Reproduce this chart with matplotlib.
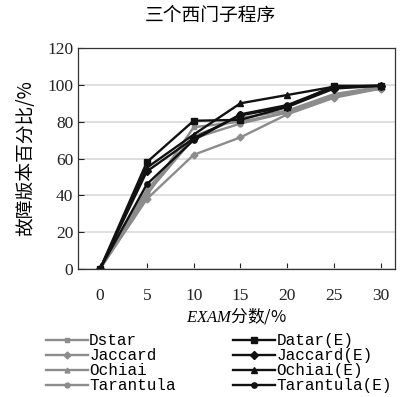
import matplotlib

matplotlib.use("Agg")
import matplotlib.pyplot as plt

plt.rcParams["font.family"] = ["Liberation Serif", "Noto Sans CJK SC"]
plt.rcParams["mathtext.fontset"] = "custom"
plt.rcParams["mathtext.it"] = "Liberation Serif:italic"
plt.rcParams["mathtext.rm"] = "Liberation Serif"

# EXAM score (%) and share of faulty versions found (%)
exam = [0, 5, 10, 15, 20, 25, 30]
dstar = [0, 40, 77, 80, 85, 94, 98]
jaccard = [0, 38, 62, 71.5, 84, 93, 98]
ochiai = [0, 43, 72, 82, 86, 95, 99]
tarantula = [0, 41, 71, 79, 85, 94, 98]
datar_e = [0, 58, 80.5, 81, 88, 99.5, 99.5]
jaccard_e = [0, 53, 71, 83.5, 88, 98, 99.5]
ochiai_e = [0, 55, 73, 90, 94.5, 99, 99.5]
tarantula_e = [0, 46, 70, 84, 89, 99, 99.5]

gray_series = [("Dstar", dstar, "s"), ("Jaccard", jaccard, "D"),
               ("Ochiai", ochiai, "^"), ("Tarantula", tarantula, "o")]
black_series = [("Datar(E)", datar_e, "s"), ("Jaccard(E)", jaccard_e, "D"),
                ("Ochiai(E)", ochiai_e, "^"), ("Tarantula(E)", tarantula_e, "o")]

fig = plt.figure(figsize=(4.01, 3.97), dpi=100)
ax = fig.add_axes([0.1945, 0.3224, 0.7905, 0.5566])

for name, vals, mk in gray_series:
    ax.plot(exam, vals, color="#8c8c8c", lw=1.7, marker=mk, ms=3.5, label=name)
for name, vals, mk in black_series:
    ax.plot(exam, vals, color="#111111", lw=1.7, marker=mk, ms=3.8, label=name)

ax.set_xlim(-2.35, 31.5)
ax.set_ylim(0, 120)
ax.set_xticks(exam)
ax.set_yticks(range(0, 121, 20))
ax.tick_params(direction="in", length=4, width=0.8, labelsize=12.5, colors="#222222")
ax.tick_params(axis="x", pad=14)
ax.yaxis.grid(True, color="#d9d9d9", lw=1.2)
ax.set_axisbelow(True)
for s in ax.spines.values():
    s.set_color("#333333")
    s.set_linewidth(0.9)

ax.set_ylabel("故障版本百分比/%", family=["Noto Sans CJK SC", "DejaVu Sans"], fontsize=13.5, labelpad=8)
ax.set_xlabel(r"$\mathit{EXAM}$分数/%", family=["Noto Sans CJK SC", "DejaVu Sans"], fontsize=12, labelpad=1)
fig.text(0.525, 0.962, "三个西门子程序", family=["Noto Sans CJK SC"], fontsize=13.5, ha="center", va="center")

handles, labels = ax.get_legend_handles_labels()
fig.legend(handles, labels, ncol=2, loc="upper left", bbox_to_anchor=(0.115, 0.16),
           frameon=False, prop={"family": "Liberation Mono", "size": 11.5},
           handlelength=2.6, handletextpad=0.1, labelspacing=0.0, columnspacing=3.6,
           borderpad=0, borderaxespad=0)

fig.savefig("out.png", dpi=100)
